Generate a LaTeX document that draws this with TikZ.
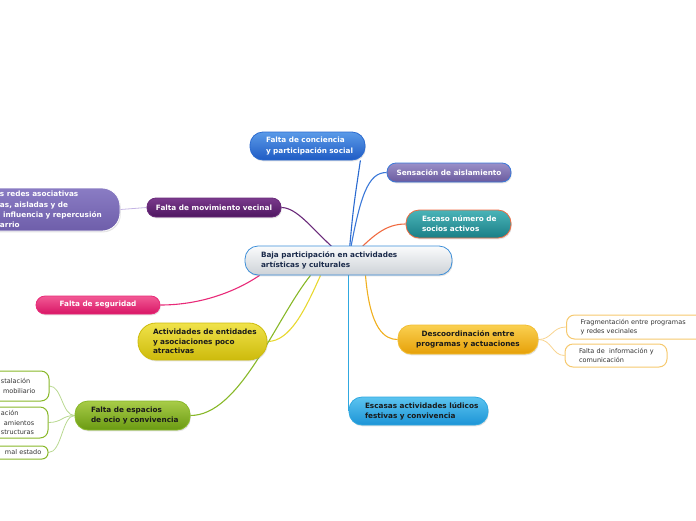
\documentclass[tikz,border=0pt]{standalone}
\usepackage{fontspec}
\setmainfont{DejaVu Sans}
\usetikzlibrary{backgrounds,shadows,calc}
\newcommand\oneline[1]{\mbox{#1}}
\definecolor{cBorder}{HTML}{3C8ED8}
\definecolor{cNavy}{HTML}{1A2A4A}
\definecolor{cDark}{HTML}{1A1A1A}
\definecolor{lBlue}{HTML}{2A6AD0}
\definecolor{lBlueB}{HTML}{3A78D8}
\definecolor{lOrRed}{HTML}{F06A40}
\definecolor{lPurple}{HTML}{6A2A7A}
\definecolor{lLav}{HTML}{C4B4E4}
\definecolor{lPink}{HTML}{E82A78}
\definecolor{lYellow}{HTML}{E8D830}
\definecolor{lGreen}{HTML}{88B828}
\definecolor{lGreenL}{HTML}{B8D890}
\definecolor{lOrange}{HTML}{F0B020}
\definecolor{lOrangeL}{HTML}{F8D490}
\definecolor{lCyan}{HTML}{30A8E0}
\definecolor{leafText}{HTML}{333333}
% fills
\definecolor{cenT}{HTML}{FAFBFC}\definecolor{cenB}{HTML}{CDD2D7}
\definecolor{concT}{HTML}{5A9AE8}\definecolor{concB}{HTML}{1F5BC4}
\definecolor{sensT}{HTML}{9A90C8}\definecolor{sensB}{HTML}{6A5A9E}
\definecolor{escT}{HTML}{4AB4B8}\definecolor{escB}{HTML}{1A7E86}
\definecolor{movT}{HTML}{7A3A8C}\definecolor{movB}{HTML}{4E1660}
\definecolor{bigT}{HTML}{8A7CC4}\definecolor{bigB}{HTML}{6E5EAA}
\definecolor{segT}{HTML}{F25A95}\definecolor{segB}{HTML}{D81565}
\definecolor{actT}{HTML}{F0E24A}\definecolor{actB}{HTML}{CDBB0C}
\definecolor{espT}{HTML}{A8CC48}\definecolor{espB}{HTML}{6A9A12}
\definecolor{descT}{HTML}{FAD050}\definecolor{descB}{HTML}{E6A008}
\definecolor{escsT}{HTML}{5CC4F0}\definecolor{escsB}{HTML}{1C94D6}
\tikzset{
  mbox/.style={inner xsep=16pt, inner ysep=1pt, align=left,
    font=\fontsize{7.3}{10.2}\selectfont\bfseries, line width=0.8pt,
    drop shadow={opacity=0.22, shadow xshift=0.8pt, shadow yshift=-1.4pt}},
  leaf/.style={inner xsep=14pt, inner ysep=1pt, align=left, fill=white,
    rounded corners=8pt, line width=1pt, text=leafText,
    font=\fontsize{6.5}{9.4}\selectfont},
  conn/.style={line width=1.1pt},
  thin/.style={line width=0.8pt},
}
\begin{document}
\begin{tikzpicture}[x=1pt, y=-1pt]
\useasboundingbox (0,0) rectangle (696,520);
% central
\node[mbox, rounded corners=13pt, draw=cBorder, top color=cenT, bottom color=cenB, text=cNavy,
  text width=175pt, minimum height=29pt] (cen) at (348.5,260.5)
  {\oneline{Baja participación en actividades}\\\oneline{artísticas y culturales}};
% first level
\node[mbox, rounded corners=13pt, draw=lBlue, top color=concT, bottom color=concB, text=white,
  text width=83pt, minimum height=28pt] (conc) at (307.5,146)
  {\oneline{Falta de conciencia}\\\oneline{y participación social}};
\node[mbox, rounded corners=9pt, draw=lBlueB, top color=sensT, bottom color=sensB, text=white,
  align=center, minimum width=124pt, inner xsep=2pt, minimum height=19pt] (sens) at (449,172.5)
  {Sensación de aislamiento};
\node[mbox, rounded corners=13pt, draw=lOrRed, top color=escT, bottom color=escB, text=white,
  text width=73pt, minimum height=28pt] (esc) at (458.5,224)
  {\oneline{Escaso número de}\\\oneline{socios activos}};
\node[mbox, rounded corners=9pt, draw=lPurple, top color=movT, bottom color=movB, text=white,
  align=center, minimum width=134pt, inner xsep=2pt, minimum height=19pt] (mov) at (214,207.5)
  {Falta de movimiento vecinal};
\node[mbox, rounded corners=18pt, draw=white, top color=bigT, bottom color=bigB, text=white,
  inner xsep=4pt, text width=172pt, minimum height=43pt] (big) at (30,209.5)
  {\oneline{\hspace*{56pt}s redes asociativas}\\\oneline{\hspace*{56pt}as, aisladas y de}\\\oneline{\hspace*{59pt}influencia y repercusión}\\\oneline{\hspace*{56pt}arrio}};
\node[mbox, rounded corners=9pt, draw=lPink, top color=segT, bottom color=segB, text=white,
  align=center, minimum width=124pt, inner xsep=2pt, minimum height=18pt] (seg) at (98,305)
  {Falta de seguridad};
\node[mbox, rounded corners=18pt, draw=actB, top color=actT, bottom color=actB, text=cDark,
  inner xsep=15pt, text width=99pt, minimum height=37pt, font=\fontsize{7.3}{9.6}\selectfont\bfseries] (act) at (202.5,341.5)
  {\oneline{Actividades de entidades}\\\oneline{y asociaciones poco}\\\oneline{atractivas}};
\node[mbox, rounded corners=13pt, draw=lGreen, top color=espT, bottom color=espB, text=cDark,
  text width=83pt, minimum height=29pt] (esp) at (132.5,415.5)
  {\oneline{Falta de espacios}\\\oneline{de ocio y convivencia}};
\node[mbox, rounded corners=13pt, draw=descT!60!descB, top color=descT, bottom color=descB, text=cDark,
  align=center, minimum width=140pt, inner xsep=2pt, minimum height=29pt] (desc) at (468,339.5)
  {Descoordinación entre\\programas y actuaciones};
\node[mbox, rounded corners=13pt, draw=lCyan, top color=escsT, bottom color=escsB, text=cDark,
  text width=107pt, minimum height=28pt] (escs) at (418.5,411)
  {\oneline{Escasas actividades lúdicos}\\\oneline{festivas y convivencia}};
% leaves orange
\node[leaf, draw=lOrangeL!70!lOrange, text width=110pt, minimum height=24pt] (frag) at (635.5,327)
  {\oneline{Fragmentación entre programas}\\\oneline{y redes vecinales}};
\node[leaf, draw=lOrangeL!70!lOrange, text width=74pt, minimum height=23pt] (info) at (616,355.5)
  {\oneline{Falta de\ \ información y}\\\oneline{comunicación}};
% leaves green
\node[leaf, draw=lGreen, inner xsep=4pt, text width=101pt, minimum height=30pt] (g1) at (-5.5,386)
  {\oneline{\hspace*{57pt}stalación}\\\oneline{\hspace*{59pt}mobiliario}};
\node[leaf, draw=lGreen, inner xsep=4pt, text width=100pt, minimum height=31pt] (g2) at (-6,422.5)
  {\oneline{\hspace*{57pt}ación}\\\oneline{\hspace*{60pt}amientos}\\\oneline{\hspace*{57pt}structuras}};
\node[leaf, draw=lGreen, rounded corners=6pt, inner xsep=4pt, text width=100pt, minimum height=13pt] (g3) at (-6,452.5)
  {\oneline{\hspace*{61pt}mal estado}};
% connectors
\begin{scope}[on background layer]
\draw[conn, lBlue] (cen.center) .. controls (353,210) .. ([xshift=-5pt]conc.south east);
\draw[conn, lBlueB] (cen.center) .. controls (360,195) and (368,172.5) .. (sens.west);
\draw[conn, lOrRed] (cen.center) .. controls (372,236) and (385,224) .. (esc.west);
\draw[conn, lPurple] (cen.center) .. controls (318,238) and (300,207.5) .. (mov.east);
\draw[thin, lLav] (mov.west) -- (big.east);
\draw[conn, lPink] ([xshift=15pt]cen.south west) .. controls (235,292) and (200,305) .. (seg.east);
\draw[conn, lYellow] ([xshift=-28pt]cen.south) .. controls (305,310) and (290,341.5) .. (act.east);
\draw[conn, lGreen] ([xshift=-38pt]cen.south) .. controls (275,320) and (240,415.5) .. (esp.east);
\draw[conn, lOrange] ([xshift=17pt]cen.south) .. controls (370,330) and (385,339.5) .. (desc.west);
\draw[conn, lCyan] (cen.south) -- (cen.south |- escs.west);
\draw[thin, lOrangeL] (desc.east) .. controls (552,339.5) and (552,327) .. (frag.west);
\draw[thin, lOrangeL] (desc.east) .. controls (552,339.5) and (552,355.5) .. (info.west);
\draw[thin, lGreenL] (esp.west) .. controls (62,415.5) and (62,386) .. (g1.east);
\draw[thin, lGreenL] (esp.west) .. controls (62,415.5) and (62,422.5) .. (g2.east);
\draw[thin, lGreenL] (esp.west) .. controls (62,415.5) and (62,452.5) .. (g3.east);
\end{scope}
\end{tikzpicture}
\end{document}
